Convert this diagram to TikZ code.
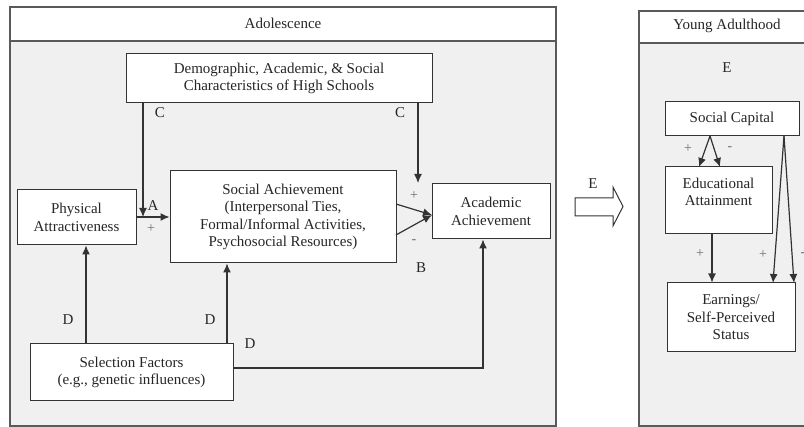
\documentclass[tikz,border=0pt]{standalone}
\usepackage{fontspec}
\setmainfont{Liberation Serif}
\usetikzlibrary{arrows.meta, calc}
\definecolor{inkgray}{HTML}{262626}
\definecolor{linegray}{HTML}{333333}
\definecolor{panelbg}{HTML}{F0F0F0}
\definecolor{panelbd}{HTML}{5A5A5A}
\definecolor{signgray}{HTML}{6E6E6E}
\tikzset{
  varbox/.style={draw=linegray, fill=white, align=center, inner sep=0pt, line width=1pt,
    font=\fontsize{15}{17.5}\selectfont, text=inkgray},
  panel/.style={draw=panelbd, fill=panelbg, line width=1.2pt},
  panelhead/.style={draw=panelbd, fill=white, line width=1.2pt},
  flow/.style={-{Latex[length=9pt,width=8pt]}, draw=linegray, line width=1.2pt},
  pathlbl/.style={font=\fontsize{15}{17.5}\selectfont, text=inkgray, inner sep=0pt},
  signlbl/.style={font=\fontsize{14}{15}\selectfont, text=signgray, inner sep=0pt}
}

\begin{document}
\begin{tikzpicture}[x=1pt, y=-1pt]
\useasboundingbox (0,0) rectangle (804,427);
\clip (0,0) rectangle (804,427);
% panels
\filldraw[panel] (10,41) rectangle (556,426);
\filldraw[panelhead] (10,7) rectangle (556,41);
\filldraw[panel] (639,43) rectangle (815,426);
\filldraw[panelhead] (639,11) rectangle (815,43);
\node[pathlbl] (adol) at (283,23) {Adolescence};
\node[pathlbl] (young) at (727,26) {Young Adulthood};

% adolescence boxes
\node[varbox, minimum width=306pt, minimum height=49pt] (demo) at (279,78.5)
  {Demographic, Academic, \& Social\\Characteristics of High Schools};
\node[varbox, minimum width=119pt, minimum height=55pt] (phys) at (76.5,217.5)
  {Physical\\Attractiveness};
\node[varbox, minimum width=226pt, minimum height=92pt] (social) at (283,217)
  {Social Achievement\\(Interpersonal Ties,\\Formal/Informal Activities,\\Psychosocial Resources)};
\node[varbox, minimum width=118pt, minimum height=55pt] (acad) at (491,211.5)
  {Academic\\Achievement};
\node[varbox, minimum width=203pt, minimum height=57pt] (select) at (131.5,372.5)
  {Selection Factors\\(e.g., genetic influences)};

% young adulthood boxes
\node[varbox, minimum width=134pt, minimum height=34pt] (scap) at (732,119) {Social Capital};
\node[varbox, minimum width=107pt, minimum height=67pt] (edu) at (718.5,200.5)
  {Educational\\Attainment\\~};
\node[varbox, minimum width=128pt, minimum height=69pt] (earn) at (731,317.5)
  {Earnings/\\Self-Perceived\\Status};

% free ends
\coordinate (cA) at (143,217);
\coordinate (cC) at (418,183);
\coordinate (bTip) at (432,215);
\coordinate (bTop) at (396,204);
\coordinate (bBot) at (396,235);
\coordinate (dPhys) at (86,0);
\coordinate (dSoc) at (227,0);
\coordinate (dAcad) at (483,368);
\coordinate (eduTopL) at (699,167);
\coordinate (eduTopR) at (720,167);
\coordinate (scapL) at (710,136);
\coordinate (scapR) at (784,136);
\coordinate (earnL) at (773,283);
\coordinate (earnR) at (794,283);

% paths
\draw[flow] (cA |- demo.south) -- (cA);
\draw[flow] (phys.east |- cA) -- (social.west |- cA);
\draw[flow] (cC |- demo.south) -- (cC);
\draw[flow] (bTop) -- (bTip);
\draw[flow] (bBot) -- (bTip);
\draw[flow] (dPhys |- select.north) -- (dPhys |- phys.south);
\draw[flow] (dSoc |- select.north) -- (dSoc |- social.south);
\draw[flow] (select.east |- dAcad) -- (dAcad) -- (dAcad |- acad.south);
\draw[flow] (scapL) -- (eduTopL);
\draw[flow] (scapL) -- (eduTopR);
\draw[flow] (edu.south -| 712,0) -- (earn.north -| 712,0);
\draw[flow] (scapR) -- (earnL);
\draw[flow] (scapR) -- (earnR);

% transition arrow
\filldraw[draw=linegray, fill=white, line width=1pt]
  (575,198) -- (613,198) -- (613,187) -- (623,206.5) -- (613,226) -- (613,216) -- (575,216) -- cycle;

% path labels
\node[pathlbl] (lblCl) at (160,113) {C};
\node[pathlbl] (lblCr) at (400,113) {C};
\node[pathlbl] (lblA) at (153,206) {A};
\node[pathlbl] (lblB) at (421,268) {B};
\node[pathlbl] (lblDa) at (68,320) {D};
\node[pathlbl] (lblDb) at (210,320) {D};
\node[pathlbl] (lblDc) at (250,344) {D};
\node[pathlbl] (lblEa) at (593,184) {E};
\node[pathlbl] (lblEb) at (727,68) {E};
\node[signlbl] (sgnA) at (151,229) {+};
\node[signlbl] (sgnC) at (414,196) {+};
\node[signlbl] (sgnB) at (414,242) {-};
\node[signlbl] (sgnEa) at (688,149) {+};
\node[signlbl] (sgnEb) at (730,149) {-};
\node[signlbl] (sgnEc) at (700,254) {+};
\node[signlbl] (sgnEd) at (763,255) {+};
\node[signlbl] (sgnEe) at (803,255) {-};
\end{tikzpicture}
\end{document}
